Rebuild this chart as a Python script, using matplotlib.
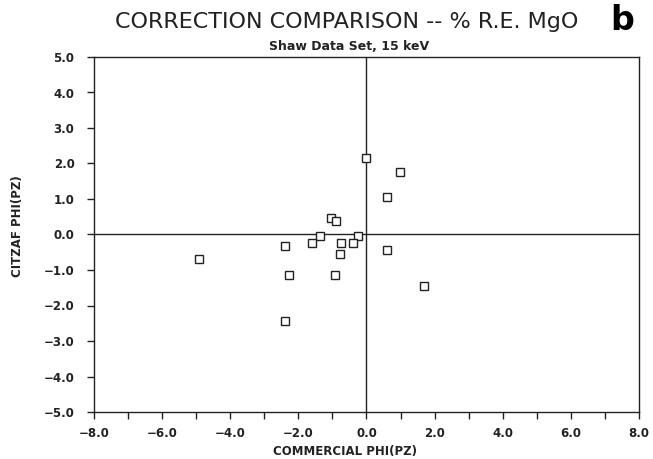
import matplotlib
matplotlib.use("Agg")
import matplotlib.pyplot as plt
import numpy as np

commercial = [0.00, 0.97, 0.59, -1.04, -0.90, -1.37, -0.24, -1.60, -0.74, -0.41,
              -2.38, 0.59, -0.79, -4.93, -2.28, -0.93, 1.68, -2.39]
citzaf = [2.16, 1.75, 1.06, 0.46, 0.38, -0.03, -0.03, -0.23, -0.24, -0.24,
          -0.32, -0.45, -0.54, -0.70, -1.14, -1.14, -1.45, -2.43]

x_major = [-8, -6, -4, -2, 0, 2, 4, 6, 8]
x_minor = [-7, -5, -3, -1, 1, 3, 5, 7]
y_ticks = [-5, -4, -3, -2, -1, 0, 1, 2, 3, 4, 5]

title = "CORRECTION COMPARISON -- % R.E. MgO"
subtitle = "Shaw Data Set, 15 keV"
xlabel = "COMMERCIAL PHI(PZ)"
ylabel = "CITZAF PHI(PZ)"
panel = "b"

plt.rcParams['font.family'] = ['DejaVu Sans']
ink = '#222222'

fig = plt.figure(figsize=(6.53, 4.59), dpi=100)
ax = fig.add_axes([94/653, 1-412/459, 545/653, 355/459])

ax.axhline(0, color=ink, lw=1.0)
ax.axvline(0, color=ink, lw=1.0)
ax.plot(commercial, citzaf, linestyle='none', marker='s', markersize=6,
        markerfacecolor='white', markeredgecolor=ink, markeredgewidth=1.0)

ax.set_xlim(-8, 8)
ax.set_ylim(-5, 5)
ax.set_xticks(x_major)
ax.set_xticks(x_minor, minor=True)
ax.set_xticklabels([f"{v:.1f}".replace('-', '\u2212') for v in x_major])
ax.set_yticks(y_ticks)
ax.set_yticklabels([f"{v:.1f}".replace('-', '\u2212') for v in y_ticks])
ax.tick_params(axis='both', which='both', direction='out', length=5, width=1,
               color=ink, labelcolor=ink, labelsize=8.5)
ax.tick_params(axis='y', pad=9)
ax.tick_params(axis='x', pad=6)
for lab in ax.get_xticklabels() + ax.get_yticklabels():
    lab.set_fontweight('bold')
for s in ax.spines.values():
    s.set_color(ink)
    s.set_linewidth(1.0)

fig.text(345/653, 1-451/459, xlabel, fontsize=8.5, color=ink, fontweight='bold',
         ha='center', va='center')
fig.text(18/653, 1-226/459, ylabel, fontsize=8.5, color=ink, fontweight='bold',
         ha='center', va='center', rotation=90)

fig.text(347/653, 1-22/459, title, fontsize=16, color=ink, ha='center', va='center')
fig.text(349/653, 1-46/459, subtitle, fontsize=9, color=ink, fontweight='bold',
         ha='center', va='center')
fig.text(622/653, 1-20/459, panel, fontsize=24, color='black', fontweight='bold',
         ha='center', va='center')

fig.savefig("out.png", dpi=100)
